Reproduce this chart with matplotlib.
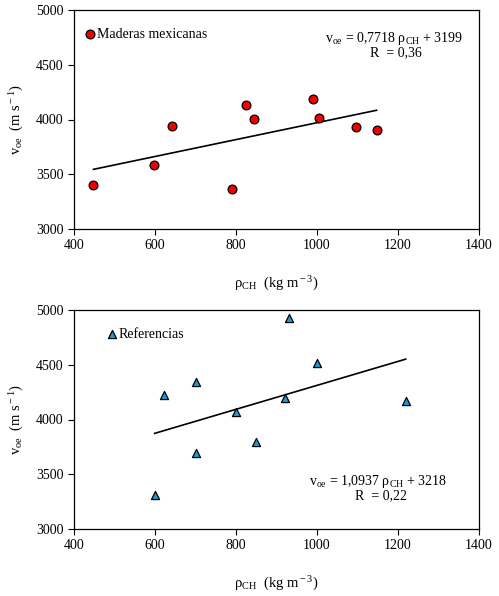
import numpy as np
import matplotlib
matplotlib.use('Agg')
from matplotlib import pyplot as plt

# datos
rho_mex = [448, 598, 642, 789, 825, 844, 991, 1005, 1096, 1147]
v_mex = [3399, 3582, 3938, 3365, 4136, 4005, 4187, 4014, 3932, 3901]

rho_ref = [599, 621, 701, 701, 800, 849, 920, 932, 1000, 1219]
v_ref = [3313, 4228, 4343, 3690, 4073, 3793, 4200, 4927, 4517, 4173]

fit_mex = (0.7718, 3199)
fit_ref = (1.0937, 3218)

plt.rcParams['font.family'] = ['Liberation Serif', 'DejaVu Serif']
plt.rcParams['mathtext.fontset'] = 'custom'
plt.rcParams['mathtext.rm'] = 'Liberation Serif'
plt.rcParams['mathtext.it'] = 'Liberation Serif:italic'
plt.rcParams['font.size'] = 10

fig = plt.figure(figsize=(4.99, 5.96), dpi=100)
W, H = 499.0, 596.0
ax1 = fig.add_axes([74 / W, 1 - 229 / H, 405 / W, 219 / H])
ax2 = fig.add_axes([74 / W, 1 - 529 / H, 405 / W, 219 / H])

ylab = 'v$_{\\rm oe}$  (m s$^{\\rm -1}$)'
xlab = 'ρ$_{\\rm CH}$  (kg m$^{\\rm -3}$)'


def setup(ax):
    ax.set_xlim(400, 1400)
    ax.set_ylim(3000, 5000)
    ax.set_xticks(np.arange(400, 1401, 200))
    ax.set_yticks(np.arange(3000, 5001, 500))
    ax.tick_params(direction='out', length=4, width=0.8, labelsize=10)
    for s in ax.spines.values():
        s.set_linewidth(0.9)
    ax.set_ylabel(ylab, fontsize=10.5, labelpad=7)
    ax.set_xlabel(xlab, fontsize=10.5, labelpad=16)


setup(ax1)
ax1.scatter(rho_mex, v_mex, s=40, c='#f00000', edgecolors='black', linewidths=0.9, zorder=3,
            label='Maderas mexicanas')
xl = np.array([min(rho_mex), max(rho_mex)])
ax1.plot(xl, fit_mex[0] * xl + fit_mex[1], color='black', lw=1.2)
ax1.legend(loc='center left', bbox_to_anchor=(0.022, 0.89), frameon=False, handletextpad=0.05,
           handlelength=1.0, borderpad=0, borderaxespad=0, scatterpoints=1, fontsize=10)
ax1.text(0.96, 0.872, 'v$_{\\rm oe}$ = 0,7718 ρ$_{\\rm CH}$ + 3199', transform=ax1.transAxes,
         ha='right', va='center', fontsize=10)
ax1.text(0.859, 0.804, 'R  = 0,36', transform=ax1.transAxes, ha='right', va='center', fontsize=10)

setup(ax2)
ax2.scatter(rho_ref, v_ref, s=34, marker='^', c='#1b9ad6', edgecolors='black', linewidths=0.9,
            zorder=3, label='Referencias')
xl = np.array([min(rho_ref), max(rho_ref)])
ax2.plot(xl, fit_ref[0] * xl + fit_ref[1], color='black', lw=1.2)
ax2.legend(loc='center left', bbox_to_anchor=(0.0765, 0.89), frameon=False, handletextpad=0.0,
           handlelength=1.0, borderpad=0, borderaxespad=0, scatterpoints=1, fontsize=10)
ax2.text(0.921, 0.219, 'v$_{\\rm oe}$ = 1,0937 ρ$_{\\rm CH}$ + 3218', transform=ax2.transAxes,
         ha='right', va='center', fontsize=10)
ax2.text(0.822, 0.151, 'R  = 0,22', transform=ax2.transAxes, ha='right', va='center', fontsize=10)

fig.savefig('out.png', dpi=100)
